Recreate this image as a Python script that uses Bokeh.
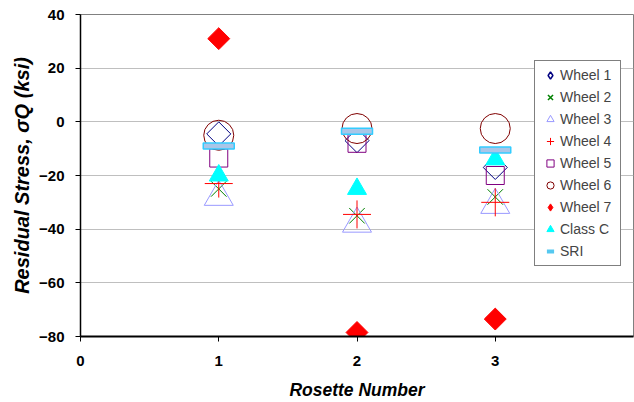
import math
from bokeh.plotting import figure
from bokeh.models import Range1d, FixedTicker, Legend, LegendItem
from bokeh.embed import file_html
from bokeh.resources import INLINE

# ---- data ----
rosettes = [1, 2, 3]
x_ticks = [0, 1, 2, 3]
y_ticks = [-80, -60, -40, -20, 0, 20, 40]
wheel1 = [-4.5, -7, -17]
wheel2 = [-25, -35, -28]
wheel3 = [-28, -38, -31]
wheel4 = [-23, -34.5, -30]
wheel5 = [-13.5, -8, -20]
wheel6 = [-5, -2.5, -2.5]
wheel7 = [31, -78.5, -73.5]
class_c = [-20, -25, -14]
sri = [-9, -3.5, -10.5]
labels = ["Wheel 1", "Wheel 2", "Wheel 3", "Wheel 4", "Wheel 5",
          "Wheel 6", "Wheel 7", "Class C", "SRI"]

FONT = "Liberation Sans"
NAN = [float("nan")]

p = figure(width=634, height=402, output_backend="svg", toolbar_location=None,
           x_range=Range1d(0, 4), y_range=Range1d(-80, 40),
           min_border_left=80, min_border_right=1, min_border_top=14,
           min_border_bottom=66)
p.background_fill_color = "white"
p.border_fill_color = "white"
p.outline_line_color = "#808080"
p.outline_line_width = 1
p.xgrid.visible = False
p.ygrid.ticker = FixedTicker(ticks=y_ticks)
p.ygrid.grid_line_color = "#bfbfbf"
p.ygrid.grid_line_width = 1

p.xaxis.ticker = FixedTicker(ticks=x_ticks)
p.yaxis.ticker = FixedTicker(ticks=y_ticks)
for ax in (p.xaxis[0], p.yaxis[0]):
    ax.axis_line_color = "black"
    ax.major_tick_line_color = "black"
    ax.minor_tick_line_color = None
    ax.major_tick_in = 0
    ax.major_tick_out = 5
    ax.major_label_text_font = FONT
    ax.major_label_text_font_style = "bold"
    ax.major_label_text_font_size = "15px"
    ax.major_label_text_color = "black"
    ax.axis_label_text_font = FONT
    ax.axis_label_text_font_style = "bold italic"
    ax.axis_label_text_color = "black"
p.xaxis.axis_line_width = 2
p.yaxis.axis_line_width = 1.5
p.xaxis.major_label_standoff = 14
p.yaxis.major_label_standoff = 11
p.xaxis.axis_label = "Rosette Number"
p.xaxis.axis_label_text_font_size = "17.5px"
p.xaxis.axis_label_standoff = 11
p.yaxis.axis_label = "Residual Stress, σQ (ksi)"
p.yaxis.axis_label_text_font_size = "20px"
p.yaxis.axis_label_standoff = 3

# ---- series ----
p.scatter(rosettes, wheel1, marker="square", angle=math.pi / 4, size=17,
          fill_color=None, line_color="#000080", line_width=1)
p.scatter(rosettes, wheel2, marker="x", size=22,
          line_color="#008000", line_width=1)
r3 = p.scatter(rosettes, wheel3, marker="triangle", size=29,
               fill_color=None, line_color="#9999FF", line_width=1)
r4 = p.scatter(rosettes, wheel4, marker="cross", size=28,
               line_color="#FF0000", line_width=1)
r5 = p.scatter(rosettes, wheel5, marker="square", size=18,
               fill_color=None, line_color="#800080", line_width=1)
r6 = p.scatter(rosettes, wheel6, marker="circle", size=30,
               fill_color=None, line_color="#800000", line_width=1)
p.scatter(rosettes, wheel7, marker="square", angle=math.pi / 4, size=15.5,
          fill_color="#FF0000", line_color="#FF0000", line_width=1)
r8 = p.scatter(rosettes, class_c, marker="triangle", size=19,
               fill_color="#00FFFF", line_color="#00FFFF", line_width=1)
p.rect(rosettes, sri, width=31, height=6, width_units="screen", height_units="screen",
       fill_color="#A9C6E8", line_color="#33CCFF", line_width=1.5)

# legend-only glyphs (not drawn in the plot: NaN positions)
l1 = p.scatter(NAN, NAN, marker="diamond", size=8, fill_color=None,
               line_color="#000080", line_width=1.5)
l2 = p.scatter(NAN, NAN, marker="x", size=8, line_color="#008000", line_width=1.5)
l7 = p.scatter(NAN, NAN, marker="diamond", size=8, fill_color="#FF0000",
               line_color="#FF0000", line_width=1)
l9 = p.scatter(NAN, NAN, marker="dash", size=8, line_color="#55C8F0", line_width=4)

items = [LegendItem(label=l, renderers=[r]) for l, r in
         zip(labels, [l1, l2, r3, r4, r5, r6, l7, r8, l9])]
legend = Legend(items=items, location=(454, 70), margin=0, padding=5, spacing=4,
                glyph_width=20, glyph_height=18, label_height=18, label_standoff=0,
                label_width=55,
                label_text_font=FONT, label_text_font_size="14px",
                border_line_color="black", border_line_width=1,
                background_fill_color="white", background_fill_alpha=1)
p.add_layout(legend)

open("out.html", "w").write(file_html(p, INLINE))
